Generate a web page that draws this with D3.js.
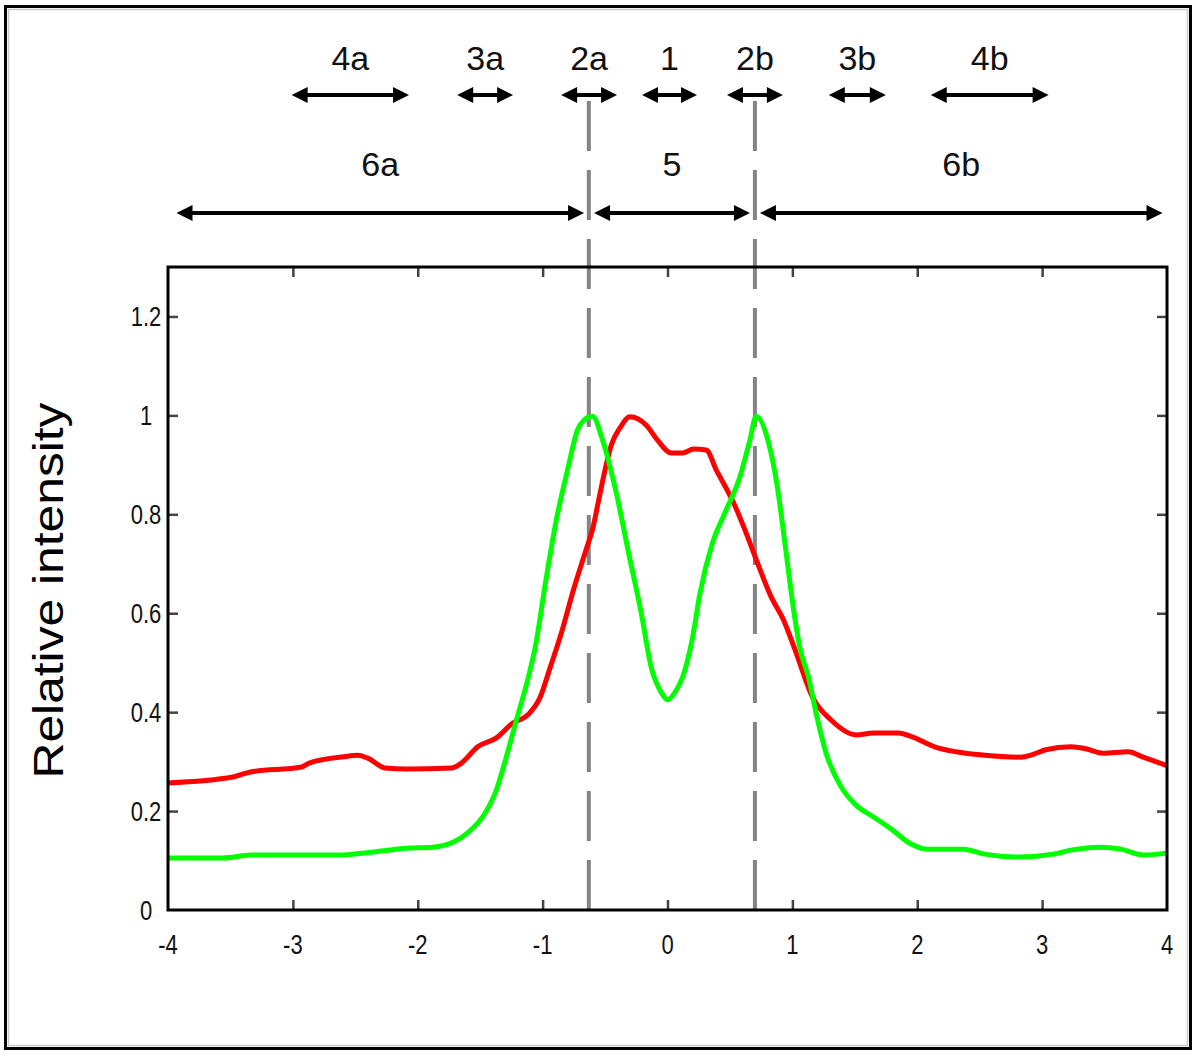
<!DOCTYPE html>
<html>
<head>
<meta charset="utf-8">
<script src="https://cdn.jsdelivr.net/npm/d3@7"></script>
<style>
body { margin: 0; background: #fff; }
svg { display: block; font-family: "Liberation Sans", Arial, sans-serif; }
</style>
</head>
<body>
<div id="chart"></div>
<script>
const width = 1200;
const height = 1059;

// red profile
const redX = [-4.0, -3.48, -3.34, -2.93, -2.87, -2.59, -2.48, -2.40, -2.26, -2.09, -1.73, -1.65, -1.52, -1.37, -1.24, -1.12, -1.02, -0.94, -0.85, -0.75, -0.65, -0.60, -0.55, -0.50, -0.45, -0.38, -0.30, -0.17, -0.08, 0.03, 0.12, 0.21, 0.31, 0.39, 0.53, 0.63, 0.72, 0.83, 0.93, 1.03, 1.16, 1.31, 1.51, 1.65, 1.85, 1.96, 2.14, 2.31, 2.54, 2.83, 2.91, 3.03, 3.23, 3.35, 3.49, 3.69, 3.81, 4.0];
const redY = [0.257, 0.269, 0.279, 0.289, 0.297, 0.31, 0.313, 0.307, 0.287, 0.285, 0.287, 0.297, 0.33, 0.348, 0.378, 0.394, 0.43, 0.49, 0.56, 0.65, 0.73, 0.77, 0.83, 0.89, 0.94, 0.975, 0.997, 0.98, 0.95, 0.924, 0.924, 0.932, 0.93, 0.89, 0.823, 0.762, 0.702, 0.633, 0.586, 0.52, 0.431, 0.384, 0.354, 0.358, 0.358, 0.35, 0.33, 0.32, 0.313, 0.309, 0.313, 0.324, 0.33, 0.326, 0.317, 0.32, 0.309, 0.292];

// green profile
const greenX = [-4.0, -3.56, -3.33, -2.64, -2.37, -2.09, -1.88, -1.71, -1.60, -1.46, -1.37, -1.29, -1.21, -1.12, -1.06, -0.97, -0.89, -0.80, -0.72, -0.67, -0.60, -0.52, -0.41, -0.31, -0.21, -0.13, -0.05, 0.0, 0.06, 0.12, 0.20, 0.26, 0.36, 0.46, 0.58, 0.66, 0.71, 0.81, 0.88, 0.94, 1.01, 1.06, 1.13, 1.19, 1.27, 1.39, 1.51, 1.65, 1.80, 1.94, 2.08, 2.37, 2.54, 2.80, 3.09, 3.23, 3.46, 3.63, 3.81, 4.0];
const greenY = [0.105, 0.105, 0.111, 0.111, 0.117, 0.125, 0.127, 0.138, 0.156, 0.196, 0.243, 0.31, 0.384, 0.465, 0.53, 0.673, 0.789, 0.89, 0.971, 0.99, 0.998, 0.95, 0.843, 0.72, 0.6, 0.49, 0.44, 0.425, 0.44, 0.47, 0.55, 0.64, 0.742, 0.803, 0.876, 0.95, 0.998, 0.944, 0.855, 0.742, 0.607, 0.53, 0.47, 0.398, 0.317, 0.249, 0.212, 0.188, 0.162, 0.135, 0.123, 0.123, 0.113, 0.107, 0.113, 0.121, 0.127, 0.123, 0.111, 0.115];

const xTicks = [-4, -3, -2, -1, 0, 1, 2, 3, 4];
const yTicks = [0, 0.2, 0.4, 0.6, 0.8, 1, 1.2];
const yTitle = "Relative intensity";

// dashed boundaries
const boundaries = [-0.63, 0.70];

// upper row of zones
const zoneLabels = ["4a", "3a", "2a", "1", "2b", "3b", "4b"];
const zoneStart = [-3.01, -1.684, -0.852, -0.204, 0.476, 1.292, 2.108];
const zoneEnd = [-2.07, -1.236, -0.404, 0.236, 0.924, 1.748, 3.052];

// lower row of regions
const regionLabels = ["6a", "5", "6b"];
const regionStart = [-3.932, -0.588, 0.74];
const regionEnd = [-0.668, 0.66, 3.964];

const plot = { left: 168, right: 1167, top: 267, bottom: 910 };

const svg = d3.select("#chart")
	.append("svg")
	.attr("width", width)
	.attr("height", height);

// outer frame
svg.append("rect")
	.attr("x", 5.5).attr("y", 6.5)
	.attr("width", 1185).attr("height", 1042)
	.attr("fill", "none")
	.attr("stroke", "#000")
	.attr("stroke-width", 3);
svg.append("rect")
	.attr("x", 8.5).attr("y", 9.5)
	.attr("width", 1179).attr("height", 1036)
	.attr("fill", "none")
	.attr("stroke", "#c8c8c8")
	.attr("stroke-width", 1.5);

const x = d3.scaleLinear().domain([-4, 4]).range([plot.left, plot.right]);
const y = d3.scaleLinear().domain([0, 1.3]).range([plot.bottom, plot.top]);

// ticks (inside), all four sides
const inner = xTicks.filter((d) => d > -4 && d < 4);
const tickStyle = (g) => {
	g.select(".domain").remove();
	g.selectAll(".tick line").attr("stroke", "#444").attr("stroke-width", 2.5);
};

svg.append("g")
	.attr("transform", `translate(0,${plot.bottom})`)
	.call(d3.axisBottom(x).tickValues(inner).tickSize(-10).tickFormat(""))
	.call(tickStyle);
svg.append("g")
	.attr("transform", `translate(0,${plot.top})`)
	.call(d3.axisTop(x).tickValues(inner).tickSize(-10).tickFormat(""))
	.call(tickStyle);
svg.append("g")
	.attr("transform", `translate(${plot.left},0)`)
	.call(d3.axisLeft(y).tickValues(yTicks.filter((d) => d > 0)).tickSize(-10).tickFormat(""))
	.call(tickStyle);
svg.append("g")
	.attr("transform", `translate(${plot.right},0)`)
	.call(d3.axisRight(y).tickValues(yTicks.filter((d) => d > 0)).tickSize(-10).tickFormat(""))
	.call(tickStyle);

// tick labels, a bit tall and narrow like the original (plain hyphen minus)
svg.append("g")
	.selectAll("text")
	.data(xTicks)
	.join("text")
	.attr("transform", (d) => `translate(${x(d)},${plot.bottom + 44}) scale(1,1.25)`)
	.attr("text-anchor", "middle")
	.attr("font-size", 22)
	.attr("fill", "#111")
	.text((d) => String(d));
svg.append("g")
	.selectAll("text")
	.data(yTicks)
	.join("text")
	.attr("transform", (d) => `translate(146,${y(d) + 10}) scale(1,1.25)`)
	.attr("text-anchor", "middle")
	.attr("font-size", 22)
	.attr("fill", "#111")
	.text((d) => String(d));

// y title
svg.append("text")
	.attr("transform", `translate(63,${(plot.top + plot.bottom) / 2 + 2}) rotate(-90)`)
	.attr("text-anchor", "middle")
	.attr("font-size", 43)
	.attr("textLength", 376)
	.attr("lengthAdjust", "spacingAndGlyphs")
	.attr("fill", "#000")
	.text(yTitle);

// dashed boundaries, drawn from the bottom up so the dashes line up with the axis
svg.append("g")
	.selectAll("path")
	.data(boundaries)
	.join("path")
	.attr("d", (d) => `M${x(d)},${plot.bottom}V92`)
	.attr("stroke", "#848484")
	.attr("stroke-width", 4)
	.attr("stroke-dasharray", "50,19")
	.attr("fill", "none");

// profiles
const line = d3.line()
	.x((d) => x(d[0]))
	.y((d) => y(d[1]))
	.curve(d3.curveMonotoneX);

svg.append("path")
	.datum(d3.zip(redX, redY))
	.attr("d", line)
	.attr("fill", "none")
	.attr("stroke", "#ff0000")
	.attr("stroke-width", 5)
	.attr("stroke-linejoin", "round");
svg.append("path")
	.datum(d3.zip(greenX, greenY))
	.attr("d", line)
	.attr("fill", "none")
	.attr("stroke", "#00ff00")
	.attr("stroke-width", 5)
	.attr("stroke-linejoin", "round");

// plot frame
svg.append("rect")
	.attr("x", plot.left).attr("y", plot.top)
	.attr("width", plot.right - plot.left)
	.attr("height", plot.bottom - plot.top)
	.attr("fill", "none")
	.attr("stroke", "#000")
	.attr("stroke-width", 3);

// double-headed arrows with labels
function drawArrows(labels, starts, ends, rowY, labelY) {
	const rows = labels.map((l, i) => ({ label: l, a: x(starts[i]), b: x(ends[i]) }));
	const g = svg.append("g");
	const head = 16;
	const half = 8;
	g.selectAll("line")
		.data(rows)
		.join("line")
		.attr("x1", (d) => d.a + head - 2)
		.attr("x2", (d) => d.b - head + 2)
		.attr("y1", rowY).attr("y2", rowY)
		.attr("stroke", "#000")
		.attr("stroke-width", 4);
	g.selectAll("path.left")
		.data(rows)
		.join("path")
		.attr("class", "left")
		.attr("d", (d) => `M${d.a},${rowY}L${d.a + head},${rowY - half}L${d.a + head},${rowY + half}Z`)
		.attr("fill", "#000");
	g.selectAll("path.right")
		.data(rows)
		.join("path")
		.attr("class", "right")
		.attr("d", (d) => `M${d.b},${rowY}L${d.b - head},${rowY - half}L${d.b - head},${rowY + half}Z`)
		.attr("fill", "#000");
	g.selectAll("text")
		.data(rows)
		.join("text")
		.attr("x", (d) => (d.a + d.b) / 2)
		.attr("y", labelY)
		.attr("text-anchor", "middle")
		.attr("font-size", 34)
		.attr("fill", "#111")
		.text((d) => d.label);
}

drawArrows(zoneLabels, zoneStart, zoneEnd, 95, 70);
drawArrows(regionLabels, regionStart, regionEnd, 213, 176);
</script>
</body>
</html>
